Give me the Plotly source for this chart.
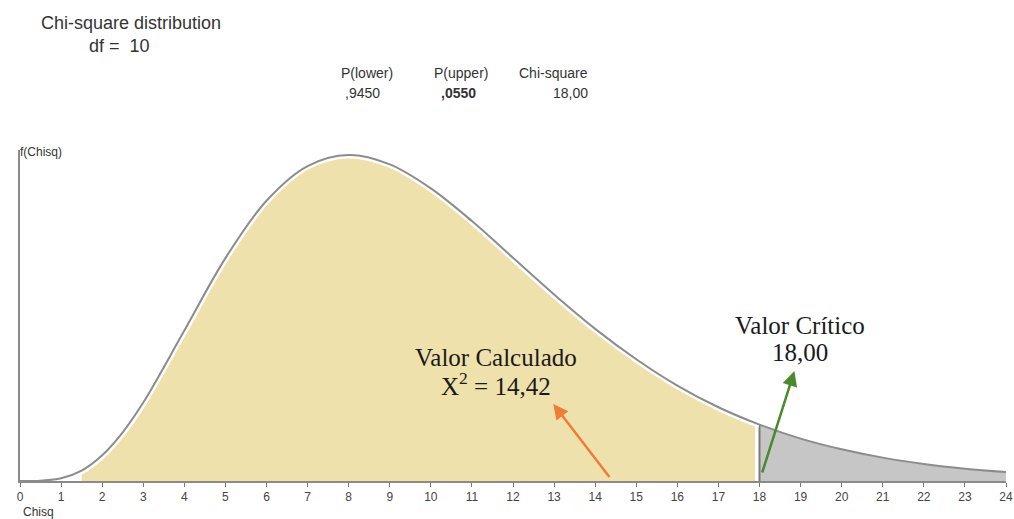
"""
Chi-square distribution (df = 10) with rejection region beyond the critical value.
"""
import plotly.graph_objects as go

INK = "#333333"
CURVE = "#8c8c8c"
YELLOW = "#eee1ab"
GREY_FILL = "#c6c6c6"

# curve heights
chisq = [0, 0.5, 1, 1.5, 2, 2.5, 3, 4, 5, 6, 7, 8, 9, 10, 11, 12,
         13, 14, 15, 16, 17, 18, 19, 20, 21, 22, 23, 24]
density = [0.0, 0.0001, 0.0008, 0.0031, 0.0077, 0.0146, 0.0235, 0.0451,
           0.0668, 0.0840, 0.0944, 0.0977, 0.0949, 0.0877, 0.0779, 0.0669,
           0.0559, 0.0456, 0.0365, 0.0286, 0.0221, 0.0169, 0.0127, 0.0095,
           0.0070, 0.0051, 0.0037, 0.0027]

df_value = 10
p_lower = ",9450"
p_upper = ",0550"
critical = 18.0
critical_label = "18,00"
calculated = 14.42
calculated_label = "14,42"
shade_start = 1.5  # where the yellow shading starts in the picture

x_ticks = list(range(0, 25))

low_x = [x for x in chisq if shade_start <= x <= critical]
low_y = [y for x, y in zip(chisq, density) if shade_start <= x <= critical]
up_x = [x for x in chisq if x >= critical]
up_y = [y for x, y in zip(chisq, density) if x >= critical]
crit_y = density[chisq.index(critical)]

fig = go.Figure()

# acceptance region (yellow)
fig.add_trace(go.Scatter(
    x=low_x, y=low_y, mode="lines", line=dict(width=0, shape="spline"),
    fill="tozeroy", fillcolor=YELLOW, hoverinfo="skip",
))
# white gap before the critical value
fig.add_trace(go.Scatter(
    x=[critical, critical], y=[0, crit_y], mode="lines",
    line=dict(color="white", width=9), hoverinfo="skip",
))
# rejection region (grey)
fig.add_trace(go.Scatter(
    x=up_x, y=up_y, mode="lines", line=dict(width=0, shape="spline"),
    fill="tozeroy", fillcolor=GREY_FILL, hoverinfo="skip",
))
fig.add_trace(go.Scatter(
    x=[critical, critical], y=[0, crit_y], mode="lines",
    line=dict(color="#7a7a7a", width=2), hoverinfo="skip",
))
# white halo under the curve over the yellow part
fig.add_trace(go.Scatter(
    x=[x for x in chisq if x <= critical],
    y=[y for x, y in zip(chisq, density) if x <= critical],
    mode="lines", line=dict(color="white", width=7, shape="spline"),
    hoverinfo="skip",
))
# density curve
fig.add_trace(go.Scatter(
    x=chisq, y=density, mode="lines",
    line=dict(color=CURVE, width=2, shape="spline"),
    hovertemplate="Chisq %{x}<br>f = %{y:.4f}<extra></extra>",
))

SERIF = "Liberation Serif, Times New Roman, serif"
SANS = "Liberation Sans, Arial, sans-serif"

W, H = 1014, 519
pl, pr, pt, pb = 20, 8, 150, 38
pw, ph = W - pl - pr, H - pt - pb

fig.update_layout(
    width=W, height=H,
    margin=dict(l=pl, r=pr, t=pt, b=pb, autoexpand=False),
    plot_bgcolor="white", paper_bgcolor="white",
    font=dict(family=SANS, color=INK, size=12),
    showlegend=False,
    xaxis=dict(
        range=[0, 24], tickvals=x_ticks, ticktext=[str(t) for t in x_ticks],
        showline=True, linecolor="#8a8a8a", linewidth=2,
        ticks="outside", ticklen=4, tickcolor="#777777", tickwidth=1,
        showgrid=False, zeroline=False, tickfont=dict(size=12, color="#444444"),
        automargin=False,
    ),
    yaxis=dict(
        range=[0, 0.0992], showticklabels=False, showgrid=False, zeroline=False,
        showline=True, linecolor="#8a8a8a", linewidth=2, automargin=False,
    ),
)


def px(x, y, text, size=12, anchor="center", bold=False, family=SANS, color=INK):
    # place a text by its pixel position in the picture
    fig.add_annotation(
        x=(x - pl) / pw, y=(H - pb - y) / ph, xref="paper", yref="paper",
        text=f"<b>{text}</b>" if bold else text, showarrow=False,
        xanchor=anchor, yanchor="middle",
        font=dict(size=size, family=family, color=color),
    )


px(131, 23, "Chi-square distribution", size=18)
px(119, 46, f"df =  {df_value}", size=18)
px(367, 73, "P(lower)", size=14)
px(362, 93, p_lower, size=14)
px(461, 73, "P(upper)", size=14)
px(458, 93, p_upper, size=14, bold=True)
px(553, 73, "Chi-square", size=14)
px(590, 93, critical_label, size=14, anchor="right")
px(18, 152, "f(Chisq)", size=12, anchor="left")
px(21, 512, "Chisq", size=12, anchor="left")

# labels of the two values
px(496, 357, "Valor Calculado", family=SERIF, size=25, color="#1a1a1a")
px(496, 384, f"X<sup>2</sup> = {calculated_label}", family=SERIF, size=25, color="#1a1a1a")
px(800, 325, "Valor Crítico", family=SERIF, size=25, color="#1a1a1a")
px(800, 352, critical_label, family=SERIF, size=25, color="#1a1a1a")

# arrows
fig.add_annotation(
    x=12.98, y=0.0231, ax=calculated, ay=0, xref="x", yref="y", axref="x", ayref="y",
    text=" ", showarrow=True, arrowhead=2, arrowsize=1.2, arrowwidth=2.5, arrowcolor="#f07c3a",
)
fig.add_annotation(
    x=18.85, y=0.0330, ax=critical, ay=0, xref="x", yref="y", axref="x", ayref="y",
    text=" ", showarrow=True, arrowhead=2, arrowsize=1.2, arrowwidth=2.5, arrowcolor="#4a8a2c",
)

fig.write_html("out.html", config={"displayModeBar": False},
               post_script="document.body.style.margin='0';")
